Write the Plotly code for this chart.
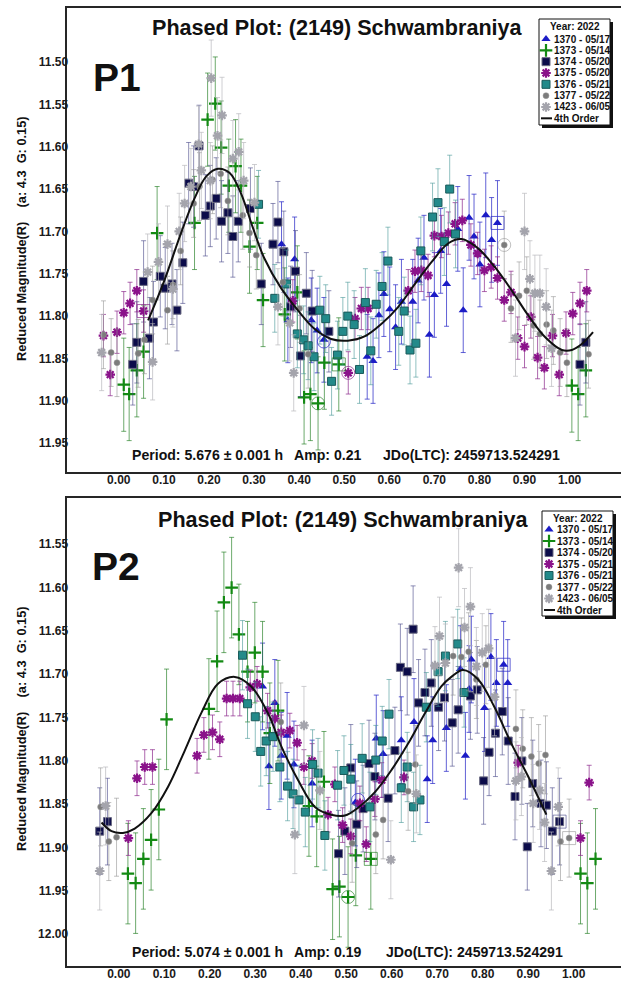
import plotly.graph_objects as go

W, H = 621, 981
FONT = "Liberation Sans, Arial, sans-serif"

# ---------------- data: panel P1 ----------------
p1_x_1370 = [0.361, 0.375, 0.39, 0.427, 0.44, 0.455, 0.551, 0.564, 0.577, 0.588, 0.601, 0.614, 0.627, 0.652, 0.664, 0.677, 0.689, 0.700, 0.714, 0.727, 0.752, 0.764, 0.777, 0.788, 0.801, 0.814, 0.827, 0.840]
p1_y_1370 = [11.715, 11.805, 11.733, 11.805, 11.817, 11.828, 11.848, 11.853, 11.799, 11.774, 11.792, 11.813, 11.783, 11.783, 11.758, 11.731, 11.822, 11.775, 11.723, 11.762, 11.697, 11.793, 11.684, 11.706, 11.739, 11.681, 11.710, 11.690]
p1_x_1373 = [0.011, 0.023, 0.040, 0.055, 0.085, 0.168, 0.197, 0.214, 0.227, 0.244, 0.259, 0.271, 0.290, 0.307, 0.320, 0.368, 0.396, 0.411, 0.425, 0.442, 0.456, 0.488, 1.005, 1.019, 1.036]
p1_y_1373 = [11.881, 11.892, 11.864, 11.842, 11.702, 11.690, 11.568, 11.549, 11.601, 11.646, 11.623, 11.646, 11.718, 11.690, 11.781, 11.798, 11.772, 11.896, 11.892, 11.903, 11.855, 11.857, 11.882, 11.892, 11.864]
p1_x_1374 = [0.031, 0.040, 0.055, 0.068, 0.077, 0.092, 0.103, 0.118, 0.129, 0.142, 0.155, 0.166, 0.178, 0.192, 0.203, 0.216, 0.228, 0.242, 0.253, 0.265, 0.292, 0.316, 0.342, 0.353, 0.366, 0.381, 0.392, 0.403, 0.416, 0.429, 0.466, 1.023, 1.036]
p1_y_1374 = [11.857, 11.831, 11.759, 11.826, 11.807, 11.753, 11.767, 11.762, 11.793, 11.737, 11.643, 11.647, 11.599, 11.681, 11.670, 11.661, 11.688, 11.678, 11.706, 11.688, 11.673, 11.762, 11.715, 11.689, 11.724, 11.789, 11.747, 11.847, 11.773, 11.794, 11.818, 11.857, 11.831]
p1_x_1375 = [-0.034, -0.019, -0.004, 0.011, 0.025, 0.040, 0.055, 0.386, 0.509, 0.524, 0.538, 0.553, 0.642, 0.657, 0.671, 0.686, 0.700, 0.716, 0.731, 0.746, 0.762, 0.781, 0.796, 0.811, 0.826, 0.840, 0.855, 0.870, 0.885, 0.900, 0.914, 0.929, 0.944, 0.962, 0.977, 0.992, 1.007, 1.023, 1.038]
p1_y_1375 = [11.823, 11.869, 11.819, 11.796, 11.785, 11.770, 11.794, 11.782, 11.867, 11.803, 11.791, 11.791, 11.770, 11.747, 11.746, 11.752, 11.705, 11.706, 11.702, 11.691, 11.687, 11.716, 11.726, 11.746, 11.742, 11.755, 11.781, 11.772, 11.826, 11.836, 11.801, 11.849, 11.861, 11.823, 11.869, 11.820, 11.797, 11.785, 11.770]
p1_x_1376 = [0.310, 0.346, 0.372, 0.396, 0.410, 0.420, 0.433, 0.446, 0.459, 0.472, 0.485, 0.497, 0.508, 0.522, 0.534, 0.547, 0.559, 0.571, 0.584, 0.597, 0.621, 0.633, 0.646, 0.659, 0.670, 0.696, 0.708, 0.722, 0.734, 0.747]
p1_y_1376 = [11.668, 11.779, 11.762, 11.821, 11.828, 11.835, 11.848, 11.793, 11.803, 11.877, 11.846, 11.818, 11.800, 11.810, 11.863, 11.784, 11.841, 11.786, 11.765, 11.735, 11.818, 11.794, 11.840, 11.832, 11.723, 11.683, 11.666, 11.712, 11.650, 11.703]
p1_x_1377 = [-0.034, -0.017, -0.004, 0.043, 0.057, 0.075, 0.108, 0.120, 0.137, 0.166, 0.179, 0.208, 0.226, 0.242, 0.275, 0.290, 0.305, 0.364, 0.401, 0.420, 0.855, 0.870, 0.888, 0.905, 0.920, 0.934, 0.949, 0.964, 0.979, 0.994, 1.042]
p1_y_1377 = [11.822, 11.843, 11.855, 11.844, 11.828, 11.781, 11.793, 11.763, 11.723, 11.667, 11.647, 11.639, 11.632, 11.664, 11.681, 11.702, 11.728, 11.760, 11.791, 11.845, 11.716, 11.791, 11.776, 11.770, 11.811, 11.821, 11.810, 11.817, 11.843, 11.855, 11.845]
p1_x_1423 = [-0.038, 0.064, 0.075, 0.088, 0.108, 0.120, 0.134, 0.146, 0.160, 0.177, 0.183, 0.203, 0.205, 0.219, 0.229, 0.253, 0.266, 0.277, 0.301, 0.353, 0.379, 0.388, 0.880, 0.900, 0.912, 0.923, 0.934, 0.948, 0.960]
p1_y_1423 = [11.843, 11.748, 11.854, 11.736, 11.715, 11.768, 11.700, 11.667, 11.647, 11.597, 11.628, 11.640, 11.519, 11.587, 11.563, 11.614, 11.606, 11.640, 11.666, 11.789, 11.808, 11.867, 11.826, 11.700, 11.756, 11.773, 11.773, 11.789, 11.838]
p1_err = [0.050, 0.055, 0.048, 0.025, 0.040, 0.040, 0.045]
p1_fit_x = [0.065, 0.101, 0.138, 0.168, 0.194, 0.220, 0.246, 0.271, 0.297, 0.323, 0.360, 0.397, 0.434, 0.471, 0.508, 0.545, 0.583, 0.620, 0.657, 0.694, 0.731, 0.760, 0.797, 0.834, 0.872, 0.908, 0.946, 0.983, 1.005, 1.027, 1.052]
p1_fit_y = [11.805, 11.758, 11.702, 11.661, 11.635, 11.626, 11.631, 11.655, 11.695, 11.732, 11.767, 11.793, 11.815, 11.827, 11.829, 11.824, 11.809, 11.789, 11.762, 11.736, 11.714, 11.709, 11.720, 11.742, 11.770, 11.799, 11.825, 11.840, 11.840, 11.833, 11.819]
p1_hl_x = [0.840, 0.855, 0.442, 0.488, 0.509, 0.055, 0.455]
p1_hl_y = [11.690, 11.716, 11.903, 11.857, 11.867, 11.794, 11.830]
p1_hl_kind = ["square", "circle", "circle", "square", "circle", "square", "circle"]
p1_hl_series = ["1370", "1377", "1373", "1373", "1375", "1375", "1370"]

# ---------------- data: panel P2 ----------------
p2_x_1370 = [0.316, 0.330, 0.343, 0.357, 0.370, 0.385, 0.425, 0.520, 0.566, 0.581, 0.621, 0.649, 0.678, 0.690, 0.720, 0.751, 0.762, 0.770, 0.775, 0.804, 0.818, 0.830, 0.846, 0.855]
p2_y_1370 = [11.714, 11.806, 11.733, 11.794, 11.771, 11.804, 11.826, 11.848, 11.774, 11.792, 11.776, 11.755, 11.821, 11.776, 11.762, 11.694, 11.794, 11.717, 11.683, 11.739, 11.680, 11.710, 11.689, 11.710]
p2_x_1373 = [0.020, 0.037, 0.054, 0.071, 0.088, 0.105, 0.198, 0.216, 0.231, 0.248, 0.264, 0.283, 0.299, 0.316, 0.332, 0.350, 0.418, 0.435, 0.451, 0.470, 0.485, 0.504, 0.521, 0.554, 1.015, 1.030, 1.048]
p2_y_1373 = [11.930, 11.941, 11.913, 11.891, 11.856, 11.752, 11.740, 11.685, 11.617, 11.600, 11.654, 11.697, 11.675, 11.697, 11.768, 11.742, 11.852, 11.864, 11.824, 11.948, 11.945, 11.957, 11.909, 11.913, 11.930, 11.941, 11.913]
p2_x_1374 = [-0.042, -0.025, 0.483, 0.497, 0.510, 0.523, 0.537, 0.550, 0.563, 0.592, 0.607, 0.619, 0.634, 0.647, 0.659, 0.673, 0.687, 0.703, 0.716, 0.733, 0.746, 0.773, 0.788, 0.802, 0.814, 0.828, 0.843, 0.856, 0.871, 0.886, 0.898, 0.910, 0.928, 0.940, 0.953, 0.969]
p2_y_1374 = [11.881, 11.870, 11.907, 11.881, 11.808, 11.873, 11.855, 11.803, 11.818, 11.843, 11.788, 11.692, 11.697, 11.648, 11.733, 11.721, 11.710, 11.738, 11.727, 11.756, 11.741, 11.725, 11.718, 11.823, 11.790, 11.768, 11.743, 11.777, 11.841, 11.800, 11.899, 11.826, 11.849, 11.851, 11.881, 11.870]
p2_x_1375 = [0.021, 0.040, 0.057, 0.074, 0.172, 0.187, 0.206, 0.222, 0.237, 0.251, 0.266, 0.289, 0.304, 0.327, 0.343, 0.357, 0.376, 0.392, 0.407, 0.425, 0.460, 0.475, 0.492, 0.510, 0.530, 0.544, 0.563, 0.578, 0.627, 0.878, 1.015, 1.034]
p2_y_1375 = [11.889, 11.820, 11.807, 11.807, 11.794, 11.770, 11.767, 11.775, 11.728, 11.728, 11.728, 11.715, 11.711, 11.742, 11.751, 11.767, 11.765, 11.779, 11.807, 11.800, 11.862, 11.827, 11.874, 11.887, 11.849, 11.896, 11.844, 11.822, 11.819, 11.802, 11.889, 11.825]
p2_x_1376 = [0.272, 0.283, 0.300, 0.312, 0.324, 0.339, 0.354, 0.371, 0.383, 0.396, 0.410, 0.426, 0.438, 0.453, 0.481, 0.495, 0.510, 0.535, 0.552, 0.565, 0.579, 0.594, 0.621, 0.634, 0.648, 0.662, 0.676, 0.702, 0.718, 0.745, 0.759]
p2_y_1376 = [11.678, 11.734, 11.749, 11.789, 11.777, 11.772, 11.807, 11.829, 11.838, 11.845, 11.859, 11.804, 11.814, 11.886, 11.828, 11.811, 11.821, 11.797, 11.853, 11.799, 11.777, 11.746, 11.831, 11.807, 11.853, 11.845, 11.738, 11.697, 11.679, 11.665, 11.721]
p2_x_1377 = [-0.040, -0.022, -0.005, 0.356, 0.513, 0.565, 0.581, 0.636, 0.652, 0.735, 0.753, 0.769, 0.786, 0.807, 0.873, 0.888, 0.907, 0.923, 0.938, 0.971, 0.990]
p2_y_1377 = [11.853, 11.893, 11.888, 11.755, 11.895, 11.885, 11.868, 11.835, 11.804, 11.679, 11.680, 11.674, 11.706, 11.689, 11.763, 11.786, 11.795, 11.803, 11.793, 11.893, 11.889]
p2_x_1423 = [-0.042, -0.029, 0.387, 0.407, 0.442, 0.598, 0.654, 0.695, 0.705, 0.718, 0.747, 0.760, 0.773, 0.786, 0.799, 0.813, 0.826, 0.873, 0.885, 0.911, 0.925, 0.936, 0.951, 0.966]
p2_y_1423 = [11.927, 11.852, 11.885, 11.759, 11.834, 11.914, 11.838, 11.690, 11.656, 11.687, 11.577, 11.646, 11.622, 11.691, 11.675, 11.670, 11.726, 11.823, 11.818, 11.849, 11.834, 11.871, 11.927, 11.853]
p2_err = [0.050, 0.058, 0.050, 0.020, 0.040, 0.045, 0.045]
p2_fit_x = [-0.038, -0.016, 0.009, 0.035, 0.072, 0.108, 0.145, 0.182, 0.218, 0.255, 0.291, 0.328, 0.358, 0.394, 0.431, 0.467, 0.497, 0.526, 0.563, 0.600, 0.636, 0.673, 0.709, 0.731, 0.757, 0.790, 0.826, 0.863, 0.900, 0.940]
p2_fit_y = [11.871, 11.881, 11.883, 11.878, 11.860, 11.830, 11.788, 11.744, 11.711, 11.703, 11.714, 11.745, 11.784, 11.822, 11.853, 11.862, 11.863, 11.854, 11.836, 11.810, 11.780, 11.745, 11.714, 11.703, 11.695, 11.706, 11.738, 11.780, 11.818, 11.862]
p2_hl_x = [0.846, 0.504, 0.554, 0.969, 0.990, 0.526]
p2_hl_y = [11.689, 11.957, 11.913, 11.870, 11.889, 11.845]
p2_hl_kind = ["square", "circle", "square", "square", "square", "circle"]
p2_hl_series = ["1370", "1373", "1373", "1374", "1377", "1370"]

# ---------------- labels ----------------
series_ids = ["1370", "1373", "1374", "1375", "1376", "1377", "1423"]
p1_dates = ["05/17", "05/14", "05/20", "05/20", "05/21", "05/22", "06/05"]
p2_dates = ["05/17", "05/14", "05/20", "05/21", "05/21", "05/22", "06/05"]
x_tick_vals = [0.0, 0.1, 0.2, 0.3, 0.4, 0.5, 0.6, 0.7, 0.8, 0.9, 1.0]
x_tick_text = ["0.00", "0.10", "0.20", "0.30", "0.40", "0.50", "0.60", "0.70", "0.80", "0.90", "1.00"]
p1_y_ticks = [11.50, 11.55, 11.60, 11.65, 11.70, 11.75, 11.80, 11.85, 11.90, 11.95]
p1_y_text = ["11.50", "11.55", "11.60", "11.65", "11.70", "11.75", "11.80", "11.85", "11.90", "11.95"]
p2_y_ticks = [11.55, 11.60, 11.65, 11.70, 11.75, 11.80, 11.85, 11.90, 11.95, 12.00]
p2_y_text = ["11.55", "11.60", "11.65", "11.70", "11.75", "11.80", "11.85", "11.90", "11.95", "12.00"]
title_text = "Phased Plot: (2149) Schwambraniya"
y_title = "Reduced Magnitude(R)&nbsp;&nbsp;&nbsp; (a: 4.3&nbsp; G: 0.15)"
p1_info = ["Period: 5.676 ± 0.001 h", "Amp: 0.21", "JDo(LTC): 2459713.524291"]
p2_info = ["Period: 5.074 ± 0.001 h", "Amp: 0.19", "JDo(LTC): 2459713.524291"]

# ---------------- styles ----------------
STY = {
    "1370": dict(symbol="triangle-up", size=8, color="#1c1cc6", lc="#1c1cc6", lw=0, err="rgba(45,45,200,0.75)"),
    "1373": dict(symbol="cross-thin", size=9, color="#138a13", lc="#138a13", lw=2.2, err="rgba(30,125,30,0.65)"),
    "1374": dict(symbol="square", size=8, color="#0c0c4a", lc="#6a6a82", lw=1, err="rgba(70,70,135,0.6)"),
    "1375": dict(symbol="asterisk", size=8, color="#8a128a", lc="#8a128a", lw=2.2, err="rgba(140,40,140,0.7)"),
    "1376": dict(symbol="square", size=8, color="#238a8a", lc="#1a5a5a", lw=1, err="rgba(70,150,150,0.6)"),
    "1377": dict(symbol="circle", size=6, color="#7c7c7c", lc="#9a9a9a", lw=0.5, err="rgba(150,150,150,0.6)"),
    "1423": dict(symbol="asterisk", size=8, color="#a4a4ac", lc="#a4a4ac", lw=2.2, err="rgba(185,185,190,0.7)"),
}

p1_data = {
    "1370": (p1_x_1370, p1_y_1370), "1373": (p1_x_1373, p1_y_1373), "1374": (p1_x_1374, p1_y_1374),
    "1375": (p1_x_1375, p1_y_1375), "1376": (p1_x_1376, p1_y_1376), "1377": (p1_x_1377, p1_y_1377),
    "1423": (p1_x_1423, p1_y_1423),
}
p2_data = {
    "1370": (p2_x_1370, p2_y_1370), "1373": (p2_x_1373, p2_y_1373), "1374": (p2_x_1374, p2_y_1374),
    "1375": (p2_x_1375, p2_y_1375), "1376": (p2_x_1376, p2_y_1376), "1377": (p2_x_1377, p2_y_1377),
    "1423": (p2_x_1423, p2_y_1423),
}

fig = go.Figure()


def add_panel(data, errs, fit_x, fit_y, hl_x, hl_y, hl_kind, hl_series, xa, ya):
    for sid, e in zip(series_ids, errs):
        xs, ys = data[sid]
        s = STY[sid]
        fig.add_trace(go.Scatter(
            x=xs, y=ys, mode="markers", xaxis=xa, yaxis=ya, name=sid, showlegend=False,
            marker=dict(symbol=s["symbol"], size=s["size"], color=s["color"],
                        line=dict(color=s["lc"], width=s["lw"])),
            error_y=dict(type="constant", value=e, color=s["err"], thickness=1, width=2.5),
        ))
    for kind in ["square", "circle"]:
        idx = [i for i, k in enumerate(hl_kind) if k == kind]
        fig.add_trace(go.Scatter(
            x=[hl_x[i] for i in idx], y=[hl_y[i] for i in idx], mode="markers",
            xaxis=xa, yaxis=ya, showlegend=False, hoverinfo="skip",
            marker=dict(symbol=kind + "-open", size=13,
                        color=[STY[hl_series[i]]["err"] for i in idx],
                        line=dict(width=1)),
        ))
    fig.add_trace(go.Scatter(
        x=fit_x, y=fit_y, mode="lines", xaxis=xa, yaxis=ya, name="4th Order", showlegend=False,
        line=dict(color="#111111", width=2, shape="spline", smoothing=1.0),
    ))


add_panel(p1_data, p1_err, p1_fit_x, p1_fit_y, p1_hl_x, p1_hl_y, p1_hl_kind, p1_hl_series, "x", "y")
add_panel(p2_data, p2_err, p2_fit_x, p2_fit_y, p2_hl_x, p2_hl_y, p2_hl_kind, p2_hl_series, "x2", "y2")


def px(v):
    return v / W


def py(v):
    return 1 - v / H


X0 = px(66.5)
top_dom = [py(471.7), py(8)]
bot_dom = [py(966), py(498)]
p1_xr = [-0.116, 1.114]
p2_xr = [-0.115, 1.104]
p1_yr = [11.9837, 11.4362]
p2_yr = [12.0366, 11.4966]

tickfont = dict(family=FONT, size=12, color="#1a1a1a", weight="bold")


def main_x(dom_anchor, rng):
    return dict(domain=[X0, 1], range=rng, anchor=dom_anchor, tickmode="array",
                tickvals=x_tick_vals, ticktext=x_tick_text, showline=True, linecolor="#262626",
                linewidth=2, mirror=True, ticks="", showgrid=False, zeroline=False, tickfont=tickfont,
                ticklabelstandoff=-4, automargin=False, fixedrange=True)


def main_y(dom, anchor, rng, tv, tt):
    return dict(domain=dom, range=rng, anchor=anchor, tickmode="array", tickvals=tv, ticktext=tt,
                showline=True, linecolor="#262626", linewidth=2, mirror=False, ticks="",
                showgrid=False, zeroline=False, tickfont=tickfont, ticklabelstandoff=-6,
                automargin=False, fixedrange=True)


def over_x(base, anchor, rng):
    return dict(overlaying=base, side="top", anchor=anchor, range=rng, tickmode="array",
                tickvals=x_tick_vals, ticks="inside", ticklen=7, tickwidth=1.5, tickcolor="#333333",
                showticklabels=False, showline=False, showgrid=False, zeroline=False,
                automargin=False, fixedrange=True)


def over_y(base, anchor, rng, tv):
    return dict(overlaying=base, side="right", anchor=anchor, range=rng, tickmode="array",
                tickvals=tv, ticks="inside", ticklen=6, tickwidth=1.5, tickcolor="#555555",
                showticklabels=False, showline=False, showgrid=False, zeroline=False,
                automargin=False, fixedrange=True)


annotations = []
shapes = []


def ann(text, x, y, size, xanchor="center", color="#111111", angle=0):
    annotations.append(dict(text=text, x=px(x), y=py(y), xref="paper", yref="paper",
                            xanchor=xanchor, yanchor="middle", showarrow=False, textangle=angle,
                            borderpad=0, font=dict(family=FONT, size=size, color=color)))


def panel_text(title_x, title_y, ptxt, p_xy, info, info_xs, info_y, ytitle_y):
    ann("<b>" + title_text + "</b>", title_x, title_y, 21.6)
    ann("<b>" + ptxt + "</b>", p_xy[0], p_xy[1], 39)
    for t, xx in zip(info, info_xs):
        ann("<b>" + t + "</b>", xx, info_y, 14.1, xanchor="left")
    ann("<b>" + y_title + "</b>", 21, ytitle_y, 12.8, angle=-90)


# legend key markers live on a full-page helper axis measured in pixels
key_x = {s: [] for s in series_ids}
key_y = {s: [] for s in series_ids}


def legend_box(x0, y0, x1, y1, title_y, item_y0, step, dates):
    shapes.append(dict(type="rect", xref="paper", yref="paper", x0=px(x0 + 3), x1=px(x1 + 3),
                       y0=py(y1 + 3), y1=py(y0 + 3), fillcolor="#111111", line=dict(width=0),
                       layer="below"))
    shapes.append(dict(type="rect", xref="paper", yref="paper", x0=px(x0), x1=px(x1),
                       y0=py(y1), y1=py(y0), fillcolor="white", line=dict(color="#111111", width=1),
                       layer="below"))
    ann("<b>Year: 2022</b>", (x0 + x1) / 2, title_y, 10)
    for i, (sid, d) in enumerate(zip(series_ids, dates)):
        yy = item_y0 + i * step
        key_x[sid].append(x0 + 7)
        key_y[sid].append(yy)
        ann("<b>" + sid + " - " + d + "</b>", x0 + 14, yy, 10, xanchor="left")
    yy = item_y0 + 7 * step
    shapes.append(dict(type="line", xref="paper", yref="paper", x0=px(x0 + 2), x1=px(x0 + 13),
                       y0=py(yy), y1=py(yy), line=dict(color="#111111", width=2), layer="above"))
    ann("<b>4th Order</b>", x0 + 14, yy, 10, xanchor="left")


panel_text(337, 27, "P1", (117, 77), p1_info, [130.5, 293, 382], 455, 239)
panel_text(343, 519, "P2", (116, 566), p2_info, [130.5, 293, 385], 951.5, 729)
legend_box(539, 19, 610, 125, 26.7, 39, 11.33, p1_dates)
legend_box(542, 511, 613, 616, 518, 529.5, 11.5, p2_dates)

for sid in series_ids:
    s = STY[sid]
    fig.add_trace(go.Scatter(
        x=key_x[sid], y=key_y[sid], mode="markers", xaxis="x5", yaxis="y5",
        showlegend=False, hoverinfo="skip",
        marker=dict(symbol=s["symbol"], size=s["size"], color=s["color"],
                    line=dict(color=s["lc"], width=s["lw"])),
    ))

fig.update_layout(
    width=W, height=H, margin=dict(l=0, r=0, t=0, b=0, pad=0), autosize=False,
    paper_bgcolor="white", plot_bgcolor="rgba(0,0,0,0)", showlegend=False,
    font=dict(family=FONT, color="#111111"),
    xaxis=main_x("y", p1_xr), yaxis=main_y(top_dom, "x", p1_yr, p1_y_ticks, p1_y_text),
    xaxis2=main_x("y2", p2_xr), yaxis2=main_y(bot_dom, "x2", p2_yr, p2_y_ticks, p2_y_text),
    xaxis3=over_x("x", "y", p1_xr), yaxis3=over_y("y", "x", p1_yr, p1_y_ticks),
    xaxis4=over_x("x2", "y2", p2_xr), yaxis4=over_y("y2", "x2", p2_yr, p2_y_ticks),
    xaxis5=dict(domain=[0, 1], range=[0, W], anchor="y5", visible=False, fixedrange=True),
    yaxis5=dict(domain=[0, 1], range=[H, 0], anchor="x5", visible=False, fixedrange=True),
    annotations=annotations, shapes=shapes,
)

fig.write_html(
    "out.html",
    config={"displayModeBar": False, "staticPlot": True},
    post_script="document.body.style.margin='0';document.body.style.padding='0';"
                "document.documentElement.style.overflow='hidden';",
)
